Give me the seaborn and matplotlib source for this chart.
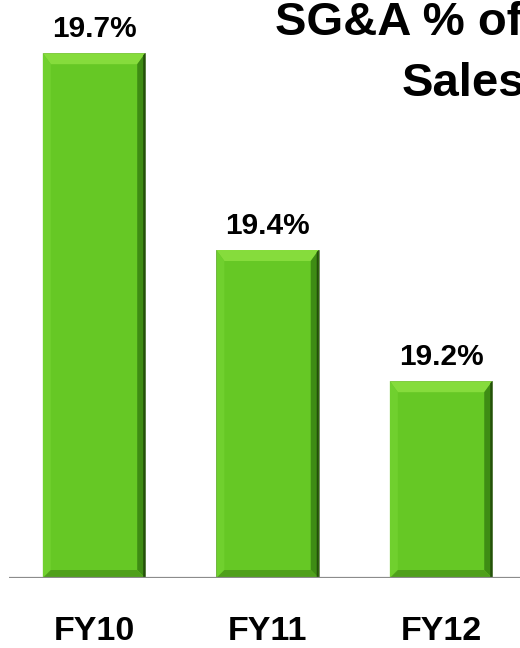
import matplotlib
matplotlib.use("Agg")
import matplotlib.pyplot as plt
import seaborn as sns
from matplotlib.patches import Polygon

categories = ["FY10", "FY11", "FY12"]
values = [19.7, 19.4, 19.2]
value_labels = ["19.7%", "19.4%", "19.2%"]
title_lines = ["SG&A % of", "Sales"]

sns.set_theme(style="white")
plt.rcParams['font.family'] = ['Liberation Sans', 'DejaVu Sans']

W, H = 520, 648
fig = plt.figure(figsize=(W / 100, H / 100), dpi=100)
base_px = 578
ax = fig.add_axes([9 / W, (H - base_px) / H, (W - 9) / W, base_px / H])

face = "#66C825"
sns.barplot(x=categories, y=values, color=face, width=0.59, ax=ax,
            saturation=1, edgecolor="#4a4a4a", linewidth=0.4)

ax.set_xlim(-0.49, 2.455)
ax.set_ylim(18.9, 18.9 + base_px / 656)
for s in ax.spines.values():
    s.set_visible(False)
ax.set_xticks([])
ax.set_yticks([])
ax.set_xlabel("")
ax.set_ylabel("")
ax.axhline(18.9, color="#8C8C8C", lw=1.6, zorder=5)

fig.canvas.draw()
ybot_disp = ax.transData.transform((0, 18.9))[1]
for p in ax.patches:
    (x0, y0), (x1, y1) = ax.transData.transform(
        [(p.get_x(), p.get_y()), (p.get_x() + p.get_width(), p.get_y() + p.get_height())])
    y0 = max(y0, ybot_disp)
    bt, bs = 11, 8
    polys = [
        ([(x0, y1), (x1, y1), (x1 - bs, y1 - bt), (x0 + bs, y1 - bt)], "#86DC3C"),
        ([(x0, y0), (x0, y1), (x0 + bs, y1 - bt), (x0 + bs, y0 + bs)], "#70D02E"),
        ([(x1, y0), (x1, y1), (x1 - bs, y1 - bt), (x1 - bs, y0 + bs)], "#3E8C14"),
        ([(x0, y0), (x1, y0), (x1 - bs, y0 + bs), (x0 + bs, y0 + bs)], "#4FA01B"),
    ]
    for pts, c in polys:
        ax.add_patch(Polygon(pts, closed=True, facecolor=c, edgecolor="none",
                             transform=None, zorder=3))
    ax.add_patch(Polygon([(x1 - 2, y0), (x1, y0), (x1, y1), (x1 - 2, y1 - 2)],
                         closed=True, facecolor="#24500a", edgecolor="none",
                         transform=None, zorder=4))

for i, (v, lab) in enumerate(zip(values, value_labels)):
    ax.annotate(lab, xy=(i, v), xytext=(0, 16 * 0.72), textcoords="offset points",
                ha="center", va="baseline", fontsize=21.5, fontweight="bold",
                color="black", zorder=6)

for i, c in enumerate(categories):
    ax.text(i, (base_px - 640) / base_px, c, transform=ax.get_xaxis_transform(),
            ha="center", va="baseline", fontsize=24.5, fontweight="bold",
            color="black", clip_on=False)

fig.text(275 / W, 1 - 35 / H, title_lines[0], ha="left", va="baseline",
         fontsize=34, fontweight="bold", color="black")
fig.text(402 / W, 1 - 96 / H, title_lines[1], ha="left", va="baseline",
         fontsize=34, fontweight="bold", color="black")

fig.savefig("out.png", dpi=100)
